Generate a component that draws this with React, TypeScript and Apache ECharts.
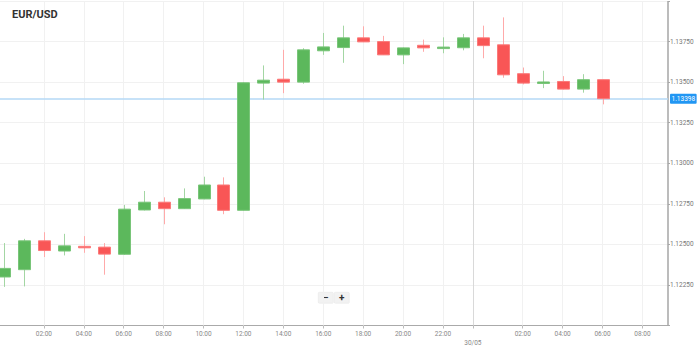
import React, { useEffect, useRef } from "react";
import * as echarts from "echarts";

// Hourly candles, hour 0 = 29/05 00:00
const hours = [0, 1, 2, 3, 4, 5, 6, 7, 8, 9, 10, 11, 12, 13, 14, 15, 16, 17, 18, 19, 20, 21, 22, 23, 24, 25, 26, 27, 28, 29, 30];
const opens = [1.12299, 1.12344, 1.12522, 1.12459, 1.12488, 1.12483, 1.12439, 1.12712, 1.1276, 1.1272, 1.1278, 1.12866, 1.1271, 1.13494, 1.13518, 1.135, 1.13693, 1.13713, 1.13773, 1.1375, 1.13668, 1.13727, 1.1371, 1.13712, 1.13773, 1.1373, 1.13552, 1.13495, 1.13504, 1.13457, 1.13515];
const closes = [1.12352, 1.12522, 1.12462, 1.12491, 1.12479, 1.1244, 1.12717, 1.1276, 1.1272, 1.12782, 1.12866, 1.1271, 1.13496, 1.13512, 1.135, 1.13699, 1.13717, 1.13773, 1.13748, 1.13668, 1.13711, 1.13711, 1.13716, 1.13773, 1.13725, 1.13545, 1.13494, 1.13501, 1.13457, 1.13515, 1.13398];
const lows = [1.12238, 1.12241, 1.12422, 1.12432, 1.12448, 1.12313, 1.12436, 1.12709, 1.12624, 1.12718, 1.12778, 1.12686, 1.12709, 1.13392, 1.13432, 1.1349, 1.13668, 1.13619, 1.13747, 1.13667, 1.13611, 1.13687, 1.13678, 1.13696, 1.13647, 1.13527, 1.13486, 1.13463, 1.13455, 1.13435, 1.13363];
const highs = [1.12508, 1.12534, 1.12575, 1.12565, 1.12551, 1.12508, 1.12743, 1.12829, 1.1279, 1.12845, 1.12917, 1.12913, 1.13498, 1.13603, 1.13699, 1.13709, 1.13803, 1.13848, 1.13844, 1.13785, 1.13713, 1.13762, 1.13776, 1.13797, 1.13848, 1.13899, 1.1359, 1.1357, 1.13537, 1.13549, 1.13515];

const xTickHours = [2, 4, 6, 8, 10, 12, 14, 16, 18, 20, 22, 23.5, 26, 28, 30, 32];
const xTickLabels = ["02:00", "04:00", "06:00", "08:00", "10:00", "12:00", "14:00", "16:00", "18:00", "20:00", "22:00", "\n30/05", "02:00", "04:00", "06:00", "08:00"];
const xGridHours = [2, 4, 6, 8, 10, 12, 14, 16, 18, 20, 22, 26, 28, 30, 32];
const yTickValues = [1.1225, 1.125, 1.1275, 1.13, 1.1325, 1.135, 1.1375];
const xMin = -0.2;
const xMax = 33.28;
const yMin = 1.12;
const yMax = 1.14;
const dayBreakHour = 23.5;
const lastPrice = 1.13398;
const title = "EUR/USD";

const UP = "#5cb85c";
const UP_BORDER = "#79c579";
const UP_WICK = "#a3d6a3";
const DOWN = "#f95656";
const DOWN_BORDER = "#fb7a7a";
const DOWN_WICK = "#ffaaaa";

export default function App() {
  const ref = useRef<HTMLDivElement>(null);
  useEffect(() => {
    if (!ref.current) return;
    const chart = echarts.init(ref.current, null, { renderer: "svg" });
    const data = hours.map((h, i) => [h, opens[i], closes[i], lows[i], highs[i]]);
    const font = "Roboto";
    const gridLines = xGridHours.map((h) => [
      { coord: [h, yMax], lineStyle: { color: "#f1f1f1", width: 1, type: "solid" }, label: { show: false } },
      { coord: [h, yMin] },
    ]);
    chart.setOption({
      animation: false,
      title: {
        text: title,
        left: 12,
        top: 9,
        padding: 0,
        textStyle: { fontSize: 11, fontWeight: "bold", color: "#333", fontFamily: font },
      },
      grid: { left: 0, right: 31, top: 1, bottom: 22.5 },
      xAxis: {
        type: "value",
        min: xMin,
        max: xMax,
        axisLine: { show: true, onZero: false, lineStyle: { color: "#aaa", width: 1 } },
        axisTick: { show: true, length: 3, lineStyle: { color: "#bbb" }, customValues: xTickHours },
        axisLabel: {
          customValues: xTickHours,
          formatter: (v: number) => {
            const i = xTickHours.findIndex((t) => Math.abs(t - v) < 1e-6);
            return i >= 0 ? xTickLabels[i] : "";
          },
          fontSize: 6.5,
          lineHeight: 9,
          color: "#888",
          margin: 4,
          fontFamily: font,
        },
        splitLine: { show: false },
      },
      yAxis: {
        type: "value",
        position: "right",
        min: yMin,
        max: yMax,
        interval: 0.0025,
        axisLine: { show: false, onZero: false },
        axisTick: { show: true, length: 2, lineStyle: { color: "#aaa" } },
        axisLabel: {
          customValues: yTickValues,
          formatter: (v: number) => v.toFixed(5),
          fontSize: 6.5,
          color: "#777",
          margin: 2,
          fontFamily: font,
        },
        splitLine: { show: true, lineStyle: { color: "#f1f1f1", width: 1 } },
      },
      series: [
        {
          type: "custom",
          data,
          encode: { x: 0, y: [1, 2, 3, 4] },
          clip: false,
          z: 3,
          renderItem: (params: any, api: any) => {
            const x = api.value(0);
            const o = api.value(1);
            const c = api.value(2);
            const l = api.value(3);
            const h = api.value(4);
            const pO = api.coord([x, o]);
            const pC = api.coord([x, c]);
            const pL = api.coord([x, l]);
            const pH = api.coord([x, h]);
            const up = c >= o;
            const cx = Math.round(pO[0]) + 0.5;
            const w = 12;
            const top = Math.min(pO[1], pC[1]);
            let hgt = Math.abs(pO[1] - pC[1]);
            if (hgt < 1.5) hgt = 1.5;
            return {
              type: "group",
              children: [
                {
                  type: "line",
                  shape: { x1: cx, y1: pH[1], x2: cx, y2: pL[1] },
                  style: { stroke: up ? UP_WICK : DOWN_WICK, lineWidth: 1 },
                },
                {
                  type: "rect",
                  shape: { x: cx - w / 2, y: top, width: w, height: hgt },
                  style: { fill: up ? UP : DOWN, stroke: up ? UP_BORDER : DOWN_BORDER, lineWidth: 1 },
                },
              ],
            };
          },
          markLine: {
            silent: true,
            symbol: ["none", "none"],
            animation: false,
            z: 1,
            data: [
              ...gridLines,
              [
                { coord: [dayBreakHour, yMax], lineStyle: { color: "#d9d9d9", width: 1, type: "solid" }, label: { show: false } },
                { coord: [dayBreakHour, yMin] },
              ],
              [
                { coord: [dayBreakHour, yMin], lineStyle: { color: "#aaa", width: 1, type: [1, 1] }, label: { show: false } },
                { coord: [dayBreakHour, 1.1193] },
              ],
              [
                { coord: [xMax, yMax], lineStyle: { color: "#a6a6a6", width: 1.5, type: "solid" }, label: { show: false } },
                { coord: [xMax, yMin] },
              ],
              [
                {
                  coord: [xMin, lastPrice],
                  lineStyle: { color: "#b5d9f6", width: 1.5, type: "solid" },
                  label: {
                    show: true,
                    position: "end",
                    formatter: lastPrice.toFixed(5),
                    backgroundColor: "#2196f3",
                    color: "#fff",
                    fontSize: 6.5,
                    fontFamily: font,
                    padding: [2, 1.5, 1, 1.5],
                    borderRadius: 1,
                    distance: 2,
                  },
                },
                { coord: [xMax, lastPrice] },
              ],
            ],
          },
        },
      ],
      graphic: [
        {
          type: "group",
          left: 318,
          top: 292,
          children: [
            { type: "rect", shape: { x: 0, y: 0, width: 15, height: 11, r: 1 }, style: { fill: "#f2f2f2", stroke: "#e4e4e4", lineWidth: 0.5 } },
            { type: "rect", shape: { x: 16, y: 0, width: 15, height: 11, r: 1 }, style: { fill: "#f2f2f2", stroke: "#e4e4e4", lineWidth: 0.5 } },
            { type: "text", x: 7.5, y: 5.5, style: { text: "−", fontSize: 10, fontWeight: "bold", fill: "#333", align: "center", verticalAlign: "middle", fontFamily: font } },
            { type: "text", x: 23.5, y: 5.5, style: { text: "+", fontSize: 10, fontWeight: "bold", fill: "#333", align: "center", verticalAlign: "middle", fontFamily: font } },
          ],
        },
      ],
    });
    return () => chart.dispose();
  }, []);
  return (
    <div
      ref={ref}
      style={{ position: "fixed", left: 0, top: 0, width: 699, height: 348, background: "#fff" }}
    />
  );
}
